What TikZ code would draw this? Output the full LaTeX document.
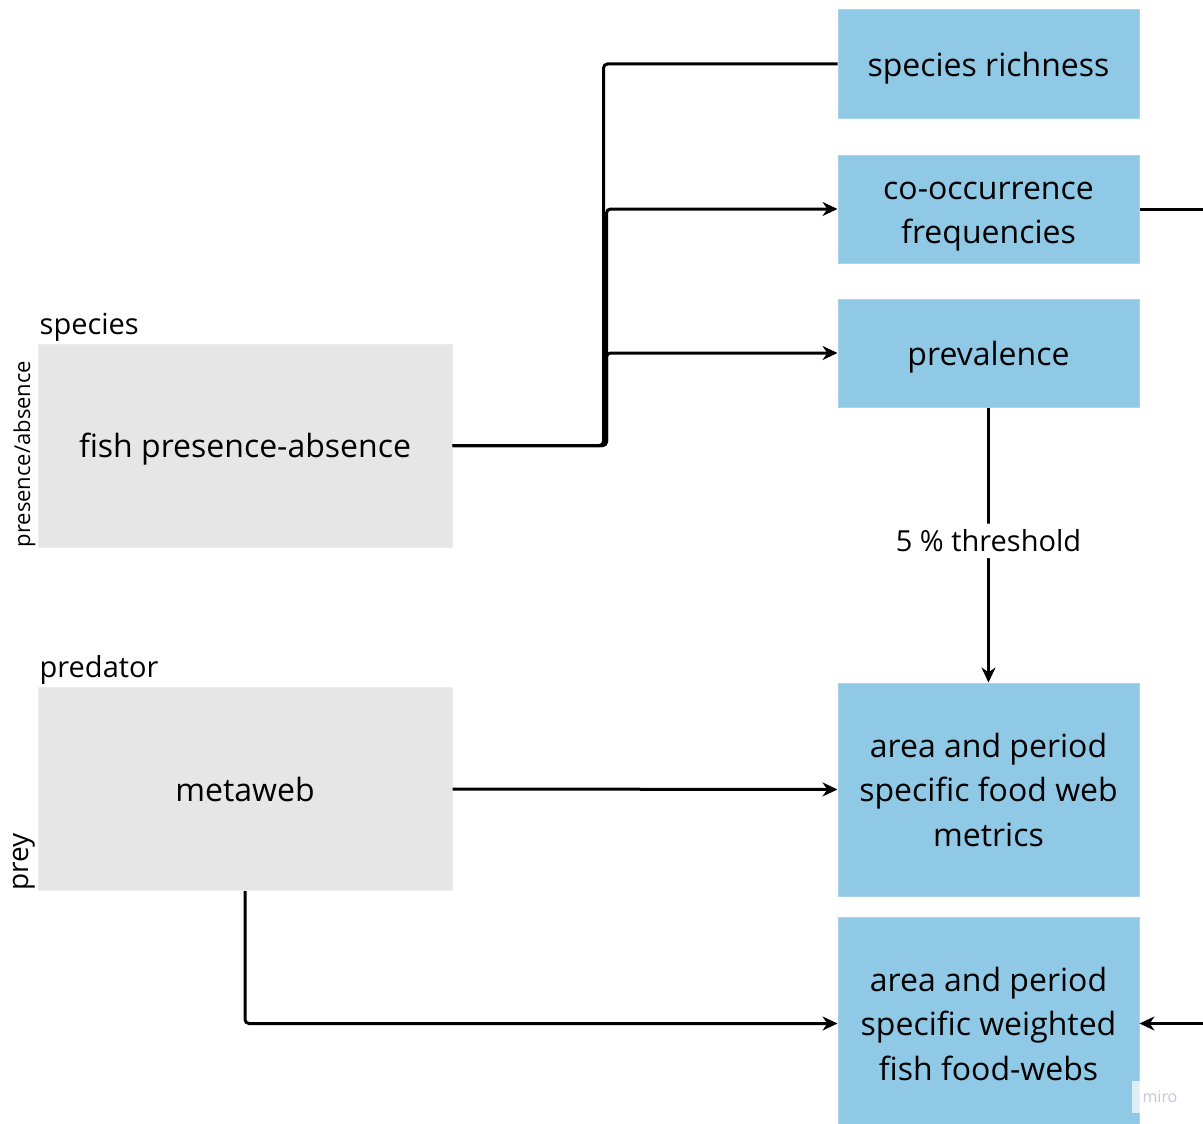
\documentclass[tikz,border=0pt]{standalone}
\usepackage{fontspec}
\setmainfont{Open Sans}
\usepackage{tikz}
\usetikzlibrary{positioning}
\usetikzlibrary{arrows.meta}

\definecolor{boxblue}{RGB}{143,201,230}
\definecolor{boxgray}{RGB}{230,230,230}
\definecolor{marklilac}{RGB}{196,196,222}
\newcommand{\tstrut}{\rule[-10pt]{0pt}{44.5pt}}

\begin{document}
\begin{tikzpicture}[x=1pt,y=-1pt,
  outcome/.style={fill=boxblue,draw=boxblue!80!white,line width=1pt,
    minimum width=301pt,align=center,inner sep=0pt,
    font=\fontsize{32}{44.5}\selectfont},
  source/.style={fill=boxgray,draw=boxgray!70!white,line width=1pt,
    minimum width=414pt,minimum height=203pt,inner sep=0pt,
    font=\fontsize{32}{44.5}\selectfont},
  axis/.style={inner sep=2pt,font=\fontsize{29}{32}\selectfont},
  link/.style={line width=3pt,rounded corners=4pt},
  arrow/.style={link,-{Stealth[length=15pt,width=14pt]}}]
  \useasboundingbox
    (0,0)
    rectangle
    (1203,1124);
  \fill[white]
    (0,0)
    rectangle
    (1203,1124);
  % outcomes
  \node[outcome,minimum height=108pt] (rich) at (988.5,64)
    {\tstrut species richness};
  \node[outcome,minimum height=108pt] (cooc) at (988.5,209)
    {\tstrut co-occurrence\\\tstrut frequencies};
  \node[outcome,minimum height=108pt] (prev) at (988.5,353)
    {\tstrut prevalence};
  \node[outcome,minimum height=213pt] (metrics) at (988.5,789.5)
    {\tstrut area and period\\\tstrut specific food web\\\tstrut metrics};
  \node[outcome,minimum height=212pt] (webs) at (988.5,1023.5)
    {\tstrut area and period\\\tstrut specific weighted\\\tstrut fish food-webs};
  % sources
  \node[source] (fish) at (245,445.5)
    {\tstrut fish presence-absence};
  \node[source] (meta) at (245,789)
    {\tstrut metaweb};
  \node[axis,anchor=south west] (fishtop) at (fish.north west)
    {species};
  \node[axis,anchor=south west,rotate=90,inner xsep=0pt,
    font=\fontsize{22}{24}\selectfont]
    (fishside) at (fish.south west)
    {presence/absence};
  \node[axis,anchor=south west] (metatop) at (meta.north west)
    {predator};
  \node[axis,anchor=south west,rotate=90,inner xsep=0pt,
    font=\fontsize{28}{30}\selectfont]
    (metaside) at (meta.south west)
    {prey};
  % connectors
  \coordinate[right=151pt of fish.east] (fork);
  \coordinate[right=154pt of fish.east] (forkb);
  \coordinate (outa) at (1203,209);
  \coordinate (outb) at (1203,1023.5);
  \draw[link]
    (fish.east)
    -- (fork)
    |- (rich.west);
  \draw[arrow]
    (fish.east)
    -- (forkb)
    |- (cooc.west);
  \draw[arrow]
    (fish.east)
    -- (forkb)
    |- (prev.west);
  \draw[arrow]
    (prev.south)
    -- node[fill=white,inner xsep=4pt,inner ysep=6pt,pos=0.485,
      font=\fontsize{29}{32}\selectfont] (thr) {5 \% threshold}
    (metrics.north);
  \draw[arrow]
    (meta.east)
    -- (metrics.west);
  \draw[arrow]
    (meta.south)
    |- (webs.west);
  \draw[link]
    (cooc.east)
    -- (outa);
  \draw[arrow]
    (outb)
    -- (outb -| webs.east);
  % watermark
  \node[fill=white,fill opacity=0.7,text opacity=1,text=marklilac,
    minimum width=56pt,minimum height=32pt,inner sep=0pt,
    font=\fontsize{16}{18}\selectfont] (mark) at (1160,1097) {miro};
\end{tikzpicture}
\end{document}
